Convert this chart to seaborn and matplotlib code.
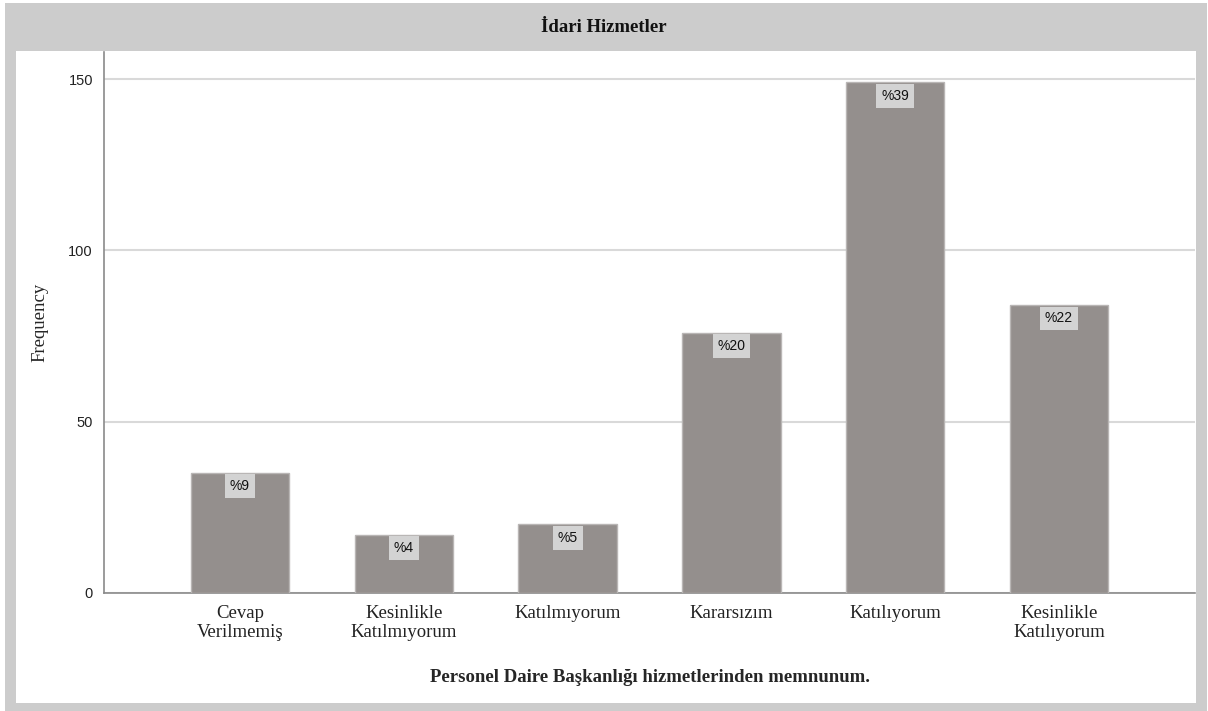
import matplotlib
matplotlib.use("Agg")
import matplotlib.pyplot as plt
from matplotlib.patches import Rectangle
import seaborn as sns
import pandas as pd

# answers and counts
categories = ["Cevap\nVerilmemiş", "Kesinlikle\nKatılmıyorum", "Katılmıyorum",
              "Kararsızım", "Katılıyorum", "Kesinlikle\nKatılıyorum"]
counts = [35, 17, 20, 76, 149, 84]
pct_labels = ["%9", "%4", "%5", "%20", "%39", "%22"]

title = "İdari Hizmetler"
xlabel = "Personel Daire Başkanlığı hizmetlerinden memnunum."
ylabel = "Frequency"

df = pd.DataFrame({"answer": categories, "count": counts})

sns.set_style("white")
plt.rcParams["font.family"] = ["Liberation Serif", "DejaVu Serif"]

W, H = 1208, 711
fig = plt.figure(figsize=(W / 100, H / 100), dpi=100)

# grey frame with title band, white panel inside
fig.patches.append(Rectangle((5 / W, 0), 1202 / W, 708 / H, transform=fig.transFigure,
                             facecolor="#cccccc", edgecolor="none", zorder=-2))
fig.patches.append(Rectangle((16 / W, 1 - 703 / H), 1180 / W, 652 / H, transform=fig.transFigure,
                             facecolor="white", edgecolor="none", zorder=-1))

ax = fig.add_axes([104 / W, 1 - 593 / H, (1195 - 104) / W, (593 - 52) / H])
ax.set_facecolor("none")

sns.barplot(data=df, x="answer", y="count", color="#948f8d", width=0.6,
            edgecolor="#b9b6b5", linewidth=1, saturation=1, ax=ax, zorder=3)

ax.set_xlim(-0.83, 5.83)
ax.set_ylim(0, 157.9)
ax.set_yticks([0, 50, 100, 150])
ax.yaxis.grid(True, color="#d9d9d9", linewidth=1.5, zorder=0)
ax.set_axisbelow(True)

for s in ["top", "right"]:
    ax.spines[s].set_visible(False)
for s in ["left", "bottom"]:
    ax.spines[s].set_color("#8a8a8a")
    ax.spines[s].set_linewidth(1.2)

ax.tick_params(axis="x", length=0, pad=9, labelsize=13.5, colors="#222222")
ax.tick_params(axis="y", length=4, width=1, color="#8a8a8a", pad=4, labelsize=10.5)
for lab in ax.get_yticklabels():
    lab.set_fontfamily(["Liberation Sans", "DejaVu Sans"])
    lab.set_color("#222222")
for lab in ax.get_xticklabels():
    lab.set_linespacing(1.1)

ax.set_xlabel(xlabel, fontsize=13.5, fontweight="bold", labelpad=20)
ax.set_ylabel(ylabel, fontsize=13.5, labelpad=14)

# percentage boxes just under each bar top
for i, (c, p) in enumerate(zip(counts, pct_labels)):
    ax.annotate(p, xy=(i, c), xytext=(0, -4.5), textcoords="offset points",
                ha="center", va="top", fontsize=10,
                fontfamily=["Liberation Sans", "DejaVu Sans"], color="#111111", zorder=5,
                bbox=dict(boxstyle="square,pad=0.35", facecolor="#d3d3d3", edgecolor="none"))

fig.text(604 / W, 1 - 27 / H, title, ha="center", va="center",
         fontsize=13.5, fontweight="bold", color="#111111")

fig.savefig("out.png", dpi=100)
